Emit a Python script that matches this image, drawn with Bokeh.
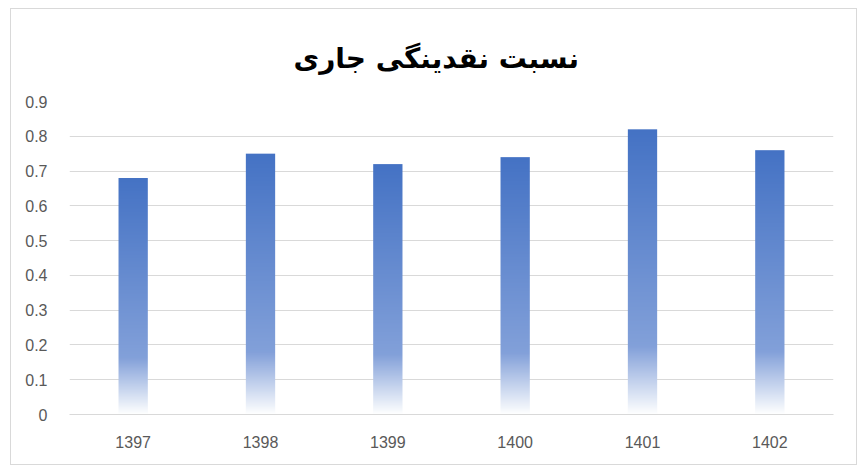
import numpy as np
from bokeh.plotting import figure
from bokeh.models import FactorRange, Range1d, FixedTicker, CustomJSTickFormatter
from bokeh.embed import file_html
from bokeh.resources import INLINE

title_text = "نسبت نقدینگی جاری"
years = ["1397", "1398", "1399", "1400", "1401", "1402"]
ratio = [0.68, 0.75, 0.72, 0.74, 0.82, 0.76]
y_ticks = [0, 0.1, 0.2, 0.3, 0.4, 0.5, 0.6, 0.7, 0.8, 0.9]

BAR_W = 0.23
TOP = np.array([0x44, 0x72, 0xC4], float)
MID = np.array([0x82, 0xA0, 0xD9], float)
BOT = np.array([0xFF, 0xFF, 0xFF], float)
STOP = 0.24

def gradient_image(rows=400):
    t = (np.arange(rows) + 0.5) / rows
    img = np.empty((rows, 1), dtype=np.uint32)
    view = img.view(dtype=np.uint8).reshape((rows, 1, 4))
    for i, ti in enumerate(t):
        if ti >= STOP:
            c = MID + (TOP - MID) * (ti - STOP) / (1 - STOP)
        else:
            c = BOT + (MID - BOT) * ti / STOP
        view[i, 0, :3] = np.round(c).astype(np.uint8)
        view[i, 0, 3] = 255
    return img

p = figure(width=847, height=457, x_range=FactorRange(*years, range_padding=0),
           y_range=Range1d(0, 0.9), output_backend="svg", toolbar_location=None,
           min_border_left=58, min_border_right=25, min_border_top=92, min_border_bottom=52)
p.styles = {"border": "1px solid #d9d9d9", "margin-left": "10px", "margin-top": "8px"}
p.outline_line_color = None

grad = gradient_image()
xs = [i + 0.5 - BAR_W / 2 for i in range(len(years))]
p.image_rgba(image=[grad] * len(years), x=xs, y=[0] * len(years),
             dw=[BAR_W] * len(years), dh=ratio)

p.xgrid.grid_line_color = None
p.ygrid.grid_line_color = "#d9d9d9"
p.ygrid.grid_line_width = 1
p.yaxis.ticker = FixedTicker(ticks=y_ticks)
p.yaxis.formatter = CustomJSTickFormatter(code="return tick.toFixed(1).replace(/\\.0$/, '');")
for ax in (p.xaxis, p.yaxis):
    ax.axis_line_color = None
    ax.major_tick_line_color = None
    ax.minor_tick_line_color = None
    ax.major_label_text_color = "#595959"
    ax.major_label_text_font = "Liberation Sans"
    ax.major_label_text_font_size = "16px"
p.xaxis.axis_line_color = "#d9d9d9"
p.yaxis.major_label_standoff = 16
p.xaxis.major_label_standoff = 15

p.title.text = title_text
p.title.align = "left"
p.title.offset = 224
p.title.text_font = "DejaVu Sans"
p.title.text_font_style = "bold"
p.title.text_font_size = "28px"
p.title.text_color = "#000000"
p.title.standoff = 53

open("out.html", "w").write(file_html(p, INLINE))
